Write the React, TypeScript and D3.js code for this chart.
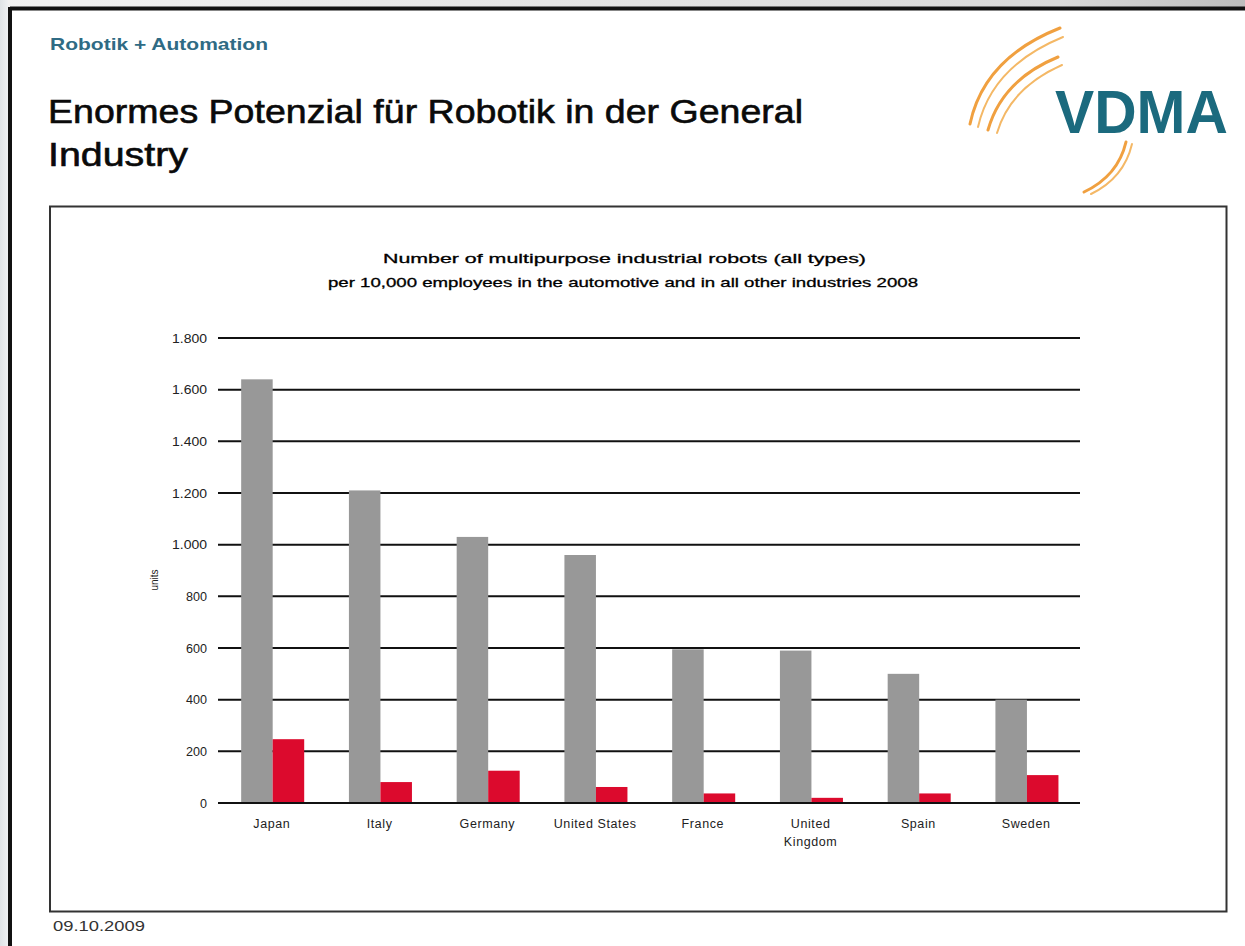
import React from "react";
import * as d3 from "d3";

const countries = ["Japan", "Italy", "Germany", "United States", "France", "United Kingdom", "Spain", "Sweden"];
const countryLabels = [["Japan"], ["Italy"], ["Germany"], ["United States"], ["France"], ["United", "Kingdom"], ["Spain"], ["Sweden"]];
const seriesKeys = ["automotive", "other"];
const automotive = [1640, 1210, 1030, 960, 595, 590, 500, 400];
const otherIndustries = [247, 81, 125, 62, 37, 20, 37, 108];
const yTicks = [0, 200, 400, 600, 800, 1000, 1200, 1400, 1600, 1800];
const yTickLabels = ["0", "200", "400", "600", "800", "1.000", "1.200", "1.400", "1.600", "1.800"];
const chartTitle = [
  "Number of multipurpose industrial robots (all types)",
  "per 10,000 employees in the automotive and in all other industries 2008",
];

const W = 1245;
const H = 946;
const plotLeft = 218;
const plotRight = 1080;
const plotTop = 338;
const plotBottom = 803;
const seriesColors = ["#989898", "#dc0a2d"];

export default function App() {
  const x = d3.scaleBand<string>().domain(countries).range([plotLeft, plotRight]).paddingInner(0).paddingOuter(0);
  const bw = x.bandwidth();
  const inner = d3.scaleBand<string>().domain(seriesKeys).range([bw * 0.215, bw * 0.8]).padding(0);
  const y = d3.scaleLinear().domain([0, 1800]).range([plotBottom, plotTop]);
  const values = [automotive, otherIndustries];
  const font = "Arial, 'Liberation Sans', sans-serif";

  return (
    <svg
      width={W}
      height={H}
      viewBox={`0 0 ${W} ${H}`}
      style={{ position: "absolute", left: 0, top: 0, background: "#ffffff" }}
      fontFamily={font}
    >
      <defs>
        <linearGradient id="topStrip" x1="0" x2="1" y1="0" y2="0">
          <stop offset="0" stopColor="#f2f2f2" />
          <stop offset="0.85" stopColor="#d9d9d9" />
          <stop offset="1" stopColor="#bdbdbd" />
        </linearGradient>
        <linearGradient id="leftStrip" x1="0" x2="1" y1="0" y2="0">
          <stop offset="0" stopColor="#dfe3e6" />
          <stop offset="1" stopColor="#eef0f2" />
        </linearGradient>
      </defs>
      <rect x={0} y={0} width={W} height={H} fill="#ffffff" />
      <rect x={0} y={0} width={W} height={7} fill="url(#topStrip)" />
      <rect x={0} y={0} width={8} height={H} fill="url(#leftStrip)" />
      {/* outer frame */}
      <line x1={10} y1={8.5} x2={W} y2={8.5} stroke="#111" strokeWidth={4} />
      <line x1={10} y1={7} x2={10} y2={H} stroke="#111" strokeWidth={4} />

      {/* header */}
      <text x={50} y={50} fontSize={17} fontWeight="bold" fill="#2f6b84" textLength={218} lengthAdjust="spacingAndGlyphs">Robotik + Automation</text>
      <text x={48} y={123} fontSize={33} fill="#0a0a0a" stroke="#0a0a0a" strokeWidth={0.6} textLength={755} lengthAdjust="spacingAndGlyphs">Enormes Potenzial für Robotik in der General</text>
      <text x={48} y={166} fontSize={33} fill="#0a0a0a" stroke="#0a0a0a" strokeWidth={0.6} textLength={140} lengthAdjust="spacingAndGlyphs">Industry</text>

      {/* logo */}
      <g fill="none" stroke="#f0a040" strokeLinecap="round">
        <path d="M970,124 Q984,58 1060,28" strokeWidth={3} />
        <path d="M978,127 Q992,66 1063,37" strokeWidth={2} stroke="#f4b866" />
        <path d="M988,130 Q1002,80 1058,57" strokeWidth={3} />
        <path d="M997,133 Q1010,88 1062,65" strokeWidth={2} stroke="#f4b866" />
        <path d="M1126,142 Q1118,176 1084,192" strokeWidth={3} />
        <path d="M1132,144 Q1124,178 1091,194" strokeWidth={2} stroke="#f4b866" />
      </g>
      <text x={1055} y={133} fontSize={62} fontWeight="bold" fill="#1b6a7e" textLength={173} lengthAdjust="spacingAndGlyphs">VDMA</text>

      {/* inner chart frame */}
      <rect x={50} y={206.5} width={1176.5} height={705} fill="#ffffff" stroke="#333" strokeWidth={2} />

      {/* chart title */}
      <text x={383} y={263} fontSize={13} fill="#000" stroke="#000" strokeWidth={0.3} textLength={483} lengthAdjust="spacingAndGlyphs">{chartTitle[0]}</text>
      <text x={328} y={287} fontSize={13} fill="#000" stroke="#000" strokeWidth={0.3} textLength={590} lengthAdjust="spacingAndGlyphs">{chartTitle[1]}</text>

      {/* gridlines */}
      {yTicks.map((t, i) => (
        <g key={t}>
          <line x1={plotLeft} x2={plotRight} y1={y(t)} y2={y(t)} stroke="#111" strokeWidth={2} />
          <text
            x={207}
            y={y(t) + 4.5}
            textAnchor="end"
            fontSize={12}
            fill="#222"
            textLength={yTickLabels[i].length * 7}
            lengthAdjust="spacingAndGlyphs"
          >
            {yTickLabels[i]}
          </text>
        </g>
      ))}
      <text transform={`translate(158,${580}) rotate(-90)`} textAnchor="middle" fontSize={10} fill="#222">units</text>

      {/* bars */}
      {countries.map((c, ci) => (
        <g key={c} transform={`translate(${x(c)},0)`}>
          {seriesKeys.map((k, si) => (
            <rect
              key={k}
              x={inner(k)}
              y={y(values[si][ci])}
              width={inner.bandwidth()}
              height={y(0) - y(values[si][ci])}
              fill={seriesColors[si]}
            />
          ))}
        </g>
      ))}
      <line x1={plotLeft} x2={plotRight} y1={y(0)} y2={y(0)} stroke="#111" strokeWidth={2} />

      {/* x labels */}
      {countries.map((c, ci) => (
        <text key={c} x={(x(c) as number) + bw / 2} y={828} textAnchor="middle" fontSize={12.5} letterSpacing={0.6} fill="#222">
          {countryLabels[ci].map((l, li) => (
            <tspan key={li} x={(x(c) as number) + bw / 2} dy={li === 0 ? 0 : 18}>{l}</tspan>
          ))}
        </text>
      ))}

      {/* date */}
      <text x={53} y={931} fontSize={14} fill="#333" textLength={92} lengthAdjust="spacingAndGlyphs">09.10.2009</text>
    </svg>
  );
}
